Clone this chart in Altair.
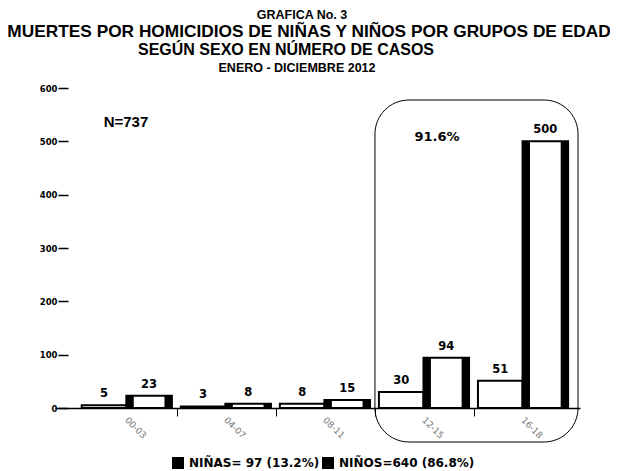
import altair as alt
import pandas as pd

grupos = ["00-03", "04-07", "08-11", "12-15", "16-18"]
ninas = [5, 3, 8, 30, 51]
ninos = [23, 8, 15, 94, 500]
lab_ninas = "NIÑAS= 97 (13.2%)"
lab_ninos = "NIÑOS=640 (86.8%)"
titulos = ["GRAFICA No. 3",
           "MUERTES POR HOMICIDIOS DE NIÑAS Y NIÑOS POR GRUPOS DE EDAD",
           "SEGÚN SEXO EN NÚMERO DE CASOS",
           "ENERO - DICIEMBRE 2012"]
nota_n = "N=737"
nota_pct = "91.6%"

rows = []
sides = []
for i, g in enumerate(grupos):
    rows.append({"grupo": g, "sexo": "niña", "valor": ninas[i],
                 "x0": i + 0.04, "x1": i + 0.49, "xc": i + 0.265})
    rows.append({"grupo": g, "sexo": "niño", "valor": ninos[i],
                 "x0": i + 0.49, "x1": i + 0.95, "xc": i + 0.72})
    sides.append({"valor": ninos[i], "x0": i + 0.49, "x1": i + 0.565, "leyenda": lab_ninos})
    sides.append({"valor": ninos[i], "x0": i + 0.875, "x1": i + 0.95, "leyenda": lab_ninos})
df = pd.DataFrame(rows)
df_sides = pd.DataFrame(sides)
df_lab = pd.DataFrame({"grupo": grupos, "xc": [i + 0.5 for i in range(len(grupos))], "cero": 0})

xs = alt.Scale(domain=[-0.23, 5.07], nice=False, zero=False)
ys = alt.Scale(domain=[0, 600], nice=False)

x_axis = alt.Axis(values=[1, 2, 3, 4], labels=False, title=None,
                  tickSize=8, tickColor="black", tickWidth=1,
                  domainColor="black", domainWidth=1.5, grid=False)
y_axis = alt.Axis(values=[0, 100, 200, 300, 400, 500, 600], title=None,
                  domain=False, tickSize=10, tickColor="black", tickWidth=1.5,
                  labelFont="DejaVu Sans", labelFontWeight="bold",
                  labelFontSize=8.5, labelColor="black", labelPadding=1,
                  offset=-13, grid=False)

bars = alt.Chart(df).mark_rect(fill="white", stroke="black", strokeWidth=2).encode(
    x=alt.X("x0:Q", scale=xs, axis=x_axis),
    x2="x1:Q",
    y=alt.Y("valor:Q", scale=ys, axis=y_axis),
    y2=alt.datum(0),
)

side_bars = alt.Chart(df_sides).mark_rect(strokeWidth=0).encode(
    x=alt.X("x0:Q", scale=xs, axis=x_axis),
    x2="x1:Q",
    y=alt.Y("valor:Q", scale=ys, axis=y_axis),
    y2=alt.datum(0),
    color=alt.Color("leyenda:N",
                    scale=alt.Scale(domain=[lab_ninas, lab_ninos], range=["black", "black"]),
                    legend=alt.Legend(orient="none", legendX=117, legendY=369, direction="horizontal",
                                      title=None, symbolType="square", symbolSize=144,
                                      symbolStrokeWidth=0, labelFont="DejaVu Sans",
                                      labelFontWeight="bold", labelFontSize=12, labelColor="black",
                                      columnPadding=2, labelOffset=5, labelLimit=300)),
)

vals = alt.Chart(df).mark_text(font="DejaVu Sans", fontWeight="bold", fontSize=11.5,
                               color="black", baseline="middle", dy=-11).encode(
    x=alt.X("xc:Q", scale=xs, axis=x_axis),
    y=alt.Y("valor:Q", scale=ys, axis=y_axis),
    text="valor:Q",
)

xlabels = alt.Chart(df_lab).mark_text(font="DejaVu Sans", fontSize=9, color="#777777",
                                      angle=45, align="center", baseline="middle",
                                      dx=20, dy=8).encode(
    x=alt.X("xc:Q", scale=xs, axis=x_axis),
    y=alt.Y("cero:Q", scale=ys, axis=y_axis),
    text="grupo:N",
)

box_df = pd.DataFrame({"x0": [3.0], "x1": [5.05], "y0": [577.5], "y1": [-63.75]})
box = alt.Chart(box_df).mark_rect(filled=False, stroke="black", strokeWidth=1, cornerRadius=34).encode(
    x=alt.X("x0:Q", scale=xs, axis=x_axis),
    x2="x1:Q",
    y=alt.Y("y0:Q", scale=ys, axis=y_axis),
    y2="y1:Q",
)

def txt(t, x, y, size, font="Liberation Sans"):
    return alt.Chart(pd.DataFrame({"t": [t]})).mark_text(
        font=font, fontWeight="bold", fontSize=size, color="black",
        align="center", baseline="middle").encode(
        x=alt.value(x), y=alt.value(y), text="t:N")

texts = [
    txt(titulos[0], 247, -73, 12.5),
    txt(titulos[1], 254, -56, 17.3),
    txt(titulos[2], 231, -38, 16),
    txt(titulos[3], 242, -20, 12.5),
    txt(nota_n, 71, 34, 15),
    txt(nota_pct, 382, 49, 13, font="DejaVu Sans"),
]

chart = alt.layer(bars, side_bars, box, vals, xlabels, *texts).properties(
    width=525, height=320,
    autosize=alt.AutoSizeParams(type="none"),
    padding={"left": 47, "top": 80, "right": 30, "bottom": 62},
    background="white",
).configure_view(stroke=None)

chart.save("out.html", embed_options={"renderer": "svg", "actions": False})
